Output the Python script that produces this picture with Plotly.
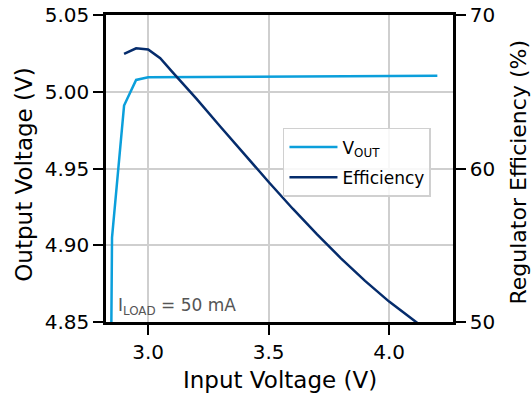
import plotly.graph_objects as go

# Output voltage vs input voltage (left axis)
vin_vout = [2.840, 2.850, 2.900, 2.950, 3.000, 3.100, 3.500, 4.000, 4.200]
vout = [4.700, 4.905, 4.991, 5.0077, 5.0094, 5.0095, 5.0099, 5.0102, 5.0104]

# Regulator efficiency vs input voltage (right axis)
vin_eff = [2.90, 2.95, 3.00, 3.05, 3.10, 3.15, 3.20, 3.30, 3.40, 3.50,
           3.60, 3.70, 3.80, 3.90, 4.00, 4.10, 4.20]
efficiency = [67.46, 67.83, 67.76, 67.18, 66.30, 65.45, 64.55, 62.72, 60.90, 59.12,
              57.38, 55.72, 54.15, 52.68, 51.33, 50.10, 48.95]

x_ticks = [3.0, 3.5, 4.0]
y_ticks = [4.85, 4.90, 4.95, 5.00, 5.05]
y2_ticks = [50, 60, 70]

FONT = "DejaVu Sans"
BLUE = "#0b9fdb"
NAVY = "#052c6c"
GRID = "#cfcfcf"
TITLE_SIZE = 23
TICK_SIZE = 20

fig = go.Figure()
fig.add_trace(go.Scatter(
    x=vin_vout, y=vout, mode="lines", name="V<sub>OUT</sub>", legendgroup="vout",
    line=dict(color=BLUE, width=2.5),
))
fig.add_trace(go.Scatter(
    x=vin_eff, y=efficiency, mode="lines", name="Efficiency", yaxis="y2",
    legendgroup="eff", line=dict(color=NAVY, width=2.5),
))

axis_common = dict(
    showline=True, linecolor="black", linewidth=2.5,
    ticks="outside", ticklen=10, tickwidth=2, tickcolor="black",
    tickfont=dict(family=FONT, size=TICK_SIZE, color="black"),
    zeroline=False, automargin=False,
)

title_font = dict(family=FONT, size=TITLE_SIZE, color="black")

fig.update_layout(
    width=532, height=400,
    margin=dict(l=106, r=79, t=15, b=78),
    paper_bgcolor="white", plot_bgcolor="white",
    font=dict(family=FONT, color="black"),
    showlegend=True,
    legend=dict(
        x=0.51, y=0.632, xanchor="left", yanchor="top",
        bgcolor="rgba(255,255,255,0.85)", bordercolor="#d0d0d0", borderwidth=1.5,
        font=dict(family=FONT, size=17, color="black"),
        itemwidth=48, tracegroupgap=5,
    ),
    xaxis=dict(
        range=[2.825, 4.265], tickvals=x_ticks, ticktext=["3.0", "3.5", "4.0"],
        showgrid=True, gridcolor=GRID, gridwidth=1.5, mirror=True,
        **axis_common,
    ),
    yaxis=dict(
        range=[4.85, 5.05], tickvals=y_ticks, ticktext=[f"{v:.2f}" for v in y_ticks],
        showgrid=True, gridcolor=GRID, gridwidth=1.5,
        **axis_common,
    ),
    yaxis2=dict(
        range=[50, 70], tickvals=y2_ticks, overlaying="y", side="right",
        showgrid=False,
        **axis_common,
    ),
    annotations=[
        dict(text="Input Voltage (V)", xref="paper", yref="paper",
             x=0.5, y=-0.19, xanchor="center", yanchor="middle",
             showarrow=False, font=title_font),
        dict(text="Output Voltage (V)", xref="paper", yref="paper",
             x=-0.236, y=0.48, xanchor="center", yanchor="middle", textangle=-90,
             showarrow=False, font=title_font),
        dict(text="Regulator Efficiency (%)", xref="paper", yref="paper",
             x=1.19, y=0.49, xanchor="center", yanchor="middle", textangle=-90,
             showarrow=False, font=dict(family=FONT, size=22, color="black")),
        dict(text="I<sub>LOAD</sub> = 50 mA", xref="paper", yref="paper",
             x=0.028, y=0.005, xanchor="left", yanchor="bottom", showarrow=False,
             font=dict(family=FONT, size=17, color="#555555")),
    ],
)

fig.write_html("out.html")
